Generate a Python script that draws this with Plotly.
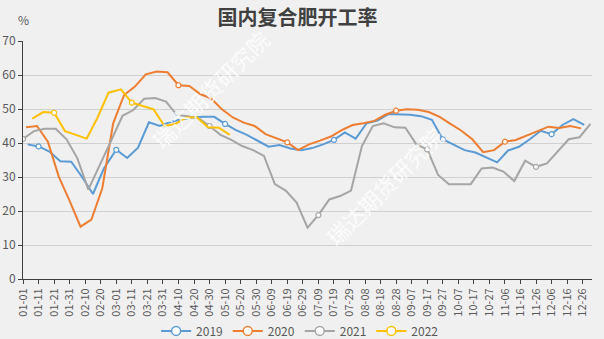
import pandas as pd
import plotly.graph_objects as go

# ---- data ----
series_names = ["2019", "2020", "2021", "2022"]
series_starts = ["2019-01-04", "2020-01-03", "2021-01-01", "2022-01-07"]
series_colors = ["#5B9BD5", "#ED7D31", "#A5A5A5", "#FFC000"]

values_2019 = [39.6, 39.0, 37.5, 34.6, 34.5, 30.0, 25.0, 32.5, 38.0, 35.6, 38.6, 46.1, 45.0,
               46.2, 47.0, 47.5, 47.7, 47.7, 45.6, 43.8, 42.4, 40.7, 38.9, 39.4, 38.4, 37.9,
               38.5, 39.6, 40.9, 43.1, 41.3, 45.8, 46.6, 48.5, 48.5, 48.3, 47.9, 46.8, 41.1,
               39.4, 37.9, 37.2, 35.8, 34.3, 37.8, 38.9, 41.1, 43.6, 42.6, 45.3, 47.0, 45.3]
values_2020 = [44.6, 45.0, 40.4, 30.1, 23.0, 15.4, 17.5, 26.7, 45.8, 54.1, 56.6, 60.2, 61.0,
               60.8, 57.0, 56.8, 54.4, 53.1, 49.9, 47.5, 46.0, 45.0, 42.6, 41.4, 40.2, 37.9,
               39.6, 40.7, 41.9, 43.8, 45.3, 45.8, 46.5, 48.3, 49.5, 49.9, 49.8, 49.1, 47.7,
               45.6, 43.6, 41.1, 37.3, 37.9, 40.4, 40.9, 42.1, 43.5, 44.8, 44.4, 45.0, 44.3]
values_2021 = [41.2, 43.5, 44.2, 44.2, 41.1, 35.5, 26.3, 33.0, 40.0, 48.0, 49.7, 53.0, 53.2,
               52.2, 48.2, 47.9, 47.3, 45.0, 42.4, 40.9, 39.1, 37.9, 36.2, 27.9, 26.0, 22.5,
               15.1, 18.8, 23.4, 24.4, 26.0, 39.1, 45.0, 45.8, 44.6, 44.5, 39.6, 38.1, 30.6,
               27.9, 27.9, 27.9, 32.5, 32.8, 31.6, 28.8, 34.8, 33.0, 34.0, 37.6, 41.1, 41.7, 45.6]
values_2022 = [47.2, 49.1, 48.9, 43.5, 42.4, 41.3, 47.5, 54.8, 55.8, 51.9, 50.9, 49.9, 45.0,
               45.6, 47.5, 47.5, 44.6, 44.5, 42.4]
series_values = [values_2019, values_2020, values_2021, values_2022]

# indices of points that carry a hollow marker in the reference
markers_2019 = [1, 8, 18, 28, 38, 48]
markers_2020 = [14, 24, 34, 44]
markers_2021 = [0, 17, 27, 37, 47]
markers_2022 = [2, 9]
series_markers = [markers_2019, markers_2020, markers_2021, markers_2022]

y_ticks = [0, 10, 20, 30, 40, 50, 60, 70]
title_text = "国内复合肥开工率"
unit_text = "%"
watermark_text = "瑞达期货研究院"

FONT = "Noto Sans CJK SC"
TXT = "#595959"

fig = go.Figure()

for name, start, color, vals, mk in zip(series_names, series_starts, series_colors,
                                        series_values, series_markers):
    dates = pd.date_range(start, periods=len(vals), freq="7D")
    xs = ["2020-" + d.strftime("%m-%d") for d in dates]  # common (leap) year axis
    fig.add_trace(go.Scatter(x=xs, y=vals, mode="lines", name=name,
                             line=dict(color=color, width=2), showlegend=False,
                             legendgroup=name, hoverinfo="skip"))
    fig.add_trace(go.Scatter(x=[xs[i] for i in mk], y=[vals[i] for i in mk], mode="markers",
                             marker=dict(size=5, color="white", line=dict(color=color, width=1.2)),
                             showlegend=False, legendgroup=name, hoverinfo="skip"))
    fig.add_trace(go.Scatter(x=[None], y=[None], mode="lines+markers", name=name,
                             legendgroup=name,
                             line=dict(color=color, width=2),
                             marker=dict(size=9, color="white", line=dict(color=color, width=1.5))))

fig.update_layout(
    width=604, height=339,
    margin=dict(l=23, r=12, t=41, b=60, autoexpand=False),
    paper_bgcolor="#f0f0f0", plot_bgcolor="#f0f0f0",
    font=dict(family=FONT, color=TXT, size=12),
    title=dict(text="<b>" + title_text + "</b>", x=0.4925, xref="container", xanchor="center",
               y=1 - 18 / 339, yref="container", yanchor="middle",
               font=dict(family=FONT, size=20, color="#404040")),
    legend=dict(orientation="h", x=0.487, xanchor="center", y=-0.218, yanchor="middle",
                font=dict(size=12, color=TXT), bgcolor="rgba(0,0,0,0)",
                itemwidth=30, tracegroupgap=0),
    showlegend=True,
)

fig.update_xaxes(
    type="date", range=["2020-01-01", "2021-01-01"],
    tick0="2020-01-01", dtick=10 * 86400000, tickformat="%m-%d",
    tickangle=-90, tickfont=dict(size=11, color=TXT),
    ticks="outside", ticklen=4, tickcolor="#404040",
    showline=True, linecolor="#404040", linewidth=1,
    showgrid=False, zeroline=False, automargin=False,
)
fig.update_yaxes(
    range=[0, 70], tickvals=y_ticks, tickfont=dict(size=12, color=TXT),
    ticks="outside", ticklen=4, tickcolor="#404040",
    showline=True, linecolor="#404040", linewidth=1,
    showgrid=True, gridcolor="#d0d0d0", gridwidth=1, zeroline=False, automargin=False,
)

fig.add_annotation(text=unit_text, xref="paper", yref="paper", x=0, y=(279 - 19) / 238,
                   showarrow=False, xanchor="center", yanchor="middle",
                   font=dict(size=12, color=TXT))

for wx, wy in [(0.3287, 0.798), (0.634, 0.391)]:
    fig.add_annotation(text=watermark_text, xref="paper", yref="paper", x=wx, y=wy,
                       xanchor="center", yanchor="middle",
                       showarrow=False, textangle=-45, opacity=0.85,
                       font=dict(size=22, color="white", family=FONT))

fig.write_html("out.html")
